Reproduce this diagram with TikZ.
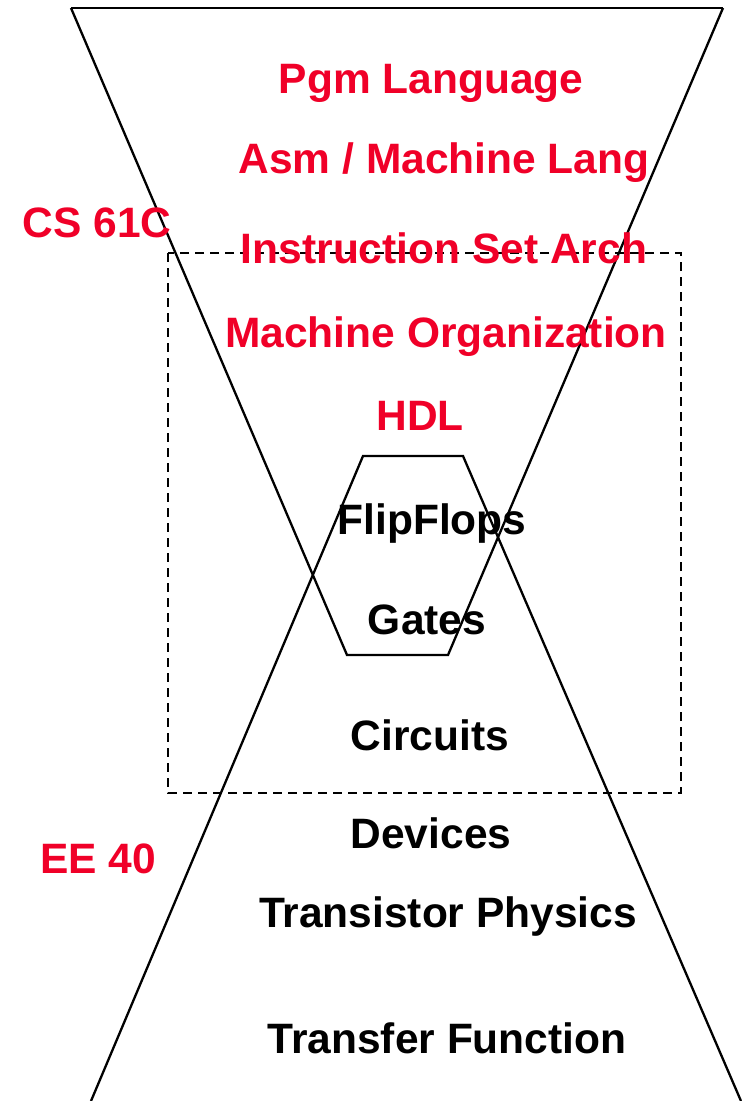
\documentclass[tikz,border=0pt]{standalone}
\usepackage{fontspec}
\setmainfont{Liberation Sans}
\definecolor{layerred}{RGB}{240,0,40}
\tikzset{
  edge/.style={line width=2.3pt, black},
  bracket/.style={line width=2.2pt, black, dash pattern=on 9pt off 6pt},
  lbl/.style={anchor=base, inner sep=0pt, font=\fontsize{42.5}{50}\selectfont\bfseries},
  cs/.style={lbl, text=layerred},
  ee/.style={lbl, text=black}
}
\begin{document}
\begin{tikzpicture}[x=1pt, y=-1pt]
  \useasboundingbox[fill=white] (0,0) rectangle (742,1101);

  % funnel and hourglass corners
  \coordinate (tl) at (71,8);
  \coordinate (tr) at (723,8);
  \coordinate (bl) at (91,1101);
  \coordinate (br) at (741,1101);
  \coordinate (hxtl) at (363,456);
  \coordinate (hxtr) at (463,456);
  \coordinate (hxbl) at (347,655);
  \coordinate (hxbr) at (448,655);

  % dashed region
  \coordinate (dtl) at (168,253);
  \coordinate (dbr) at (681,793);
  \draw[bracket] (dtl) rectangle (dbr);

  % upper funnel
  \draw[edge] (tl) -- (tr);
  \draw[edge] (tl) -- (hxbl) -- (hxbr) -- (tr);
  % lower funnel
  \draw[edge] (bl) -- (hxtl) -- (hxtr) -- (br);

  % software layers
  \node[cs] (pgm)  at (431,93)  {Pgm Language};
  \node[cs] (asm)  at (444,173) {Asm / Machine Lang};
  \node[cs] (isa)  at (444,263) {Instruction Set Arch};
  \node[cs] (morg) at (446,347) {Machine Organization};
  \node[cs] (hdl)  at (420,430) {HDL};
  \node[cs] (cs61) at (97,237)  {CS 61C};

  % hardware layers
  \node[ee] (ff)   at (432,534)  {FlipFlops};
  \node[ee] (gate) at (427,634)  {Gates};
  \node[ee] (circ) at (430,750)  {Circuits};
  \node[ee] (dev)  at (431,848)  {Devices};
  \node[ee] (tphy) at (448,927)  {Transistor Physics};
  \node[ee] (tfun) at (447,1053) {Transfer Function};
  \node[cs] (ee40) at (98,873)   {EE 40};
\end{tikzpicture}
\end{document}
